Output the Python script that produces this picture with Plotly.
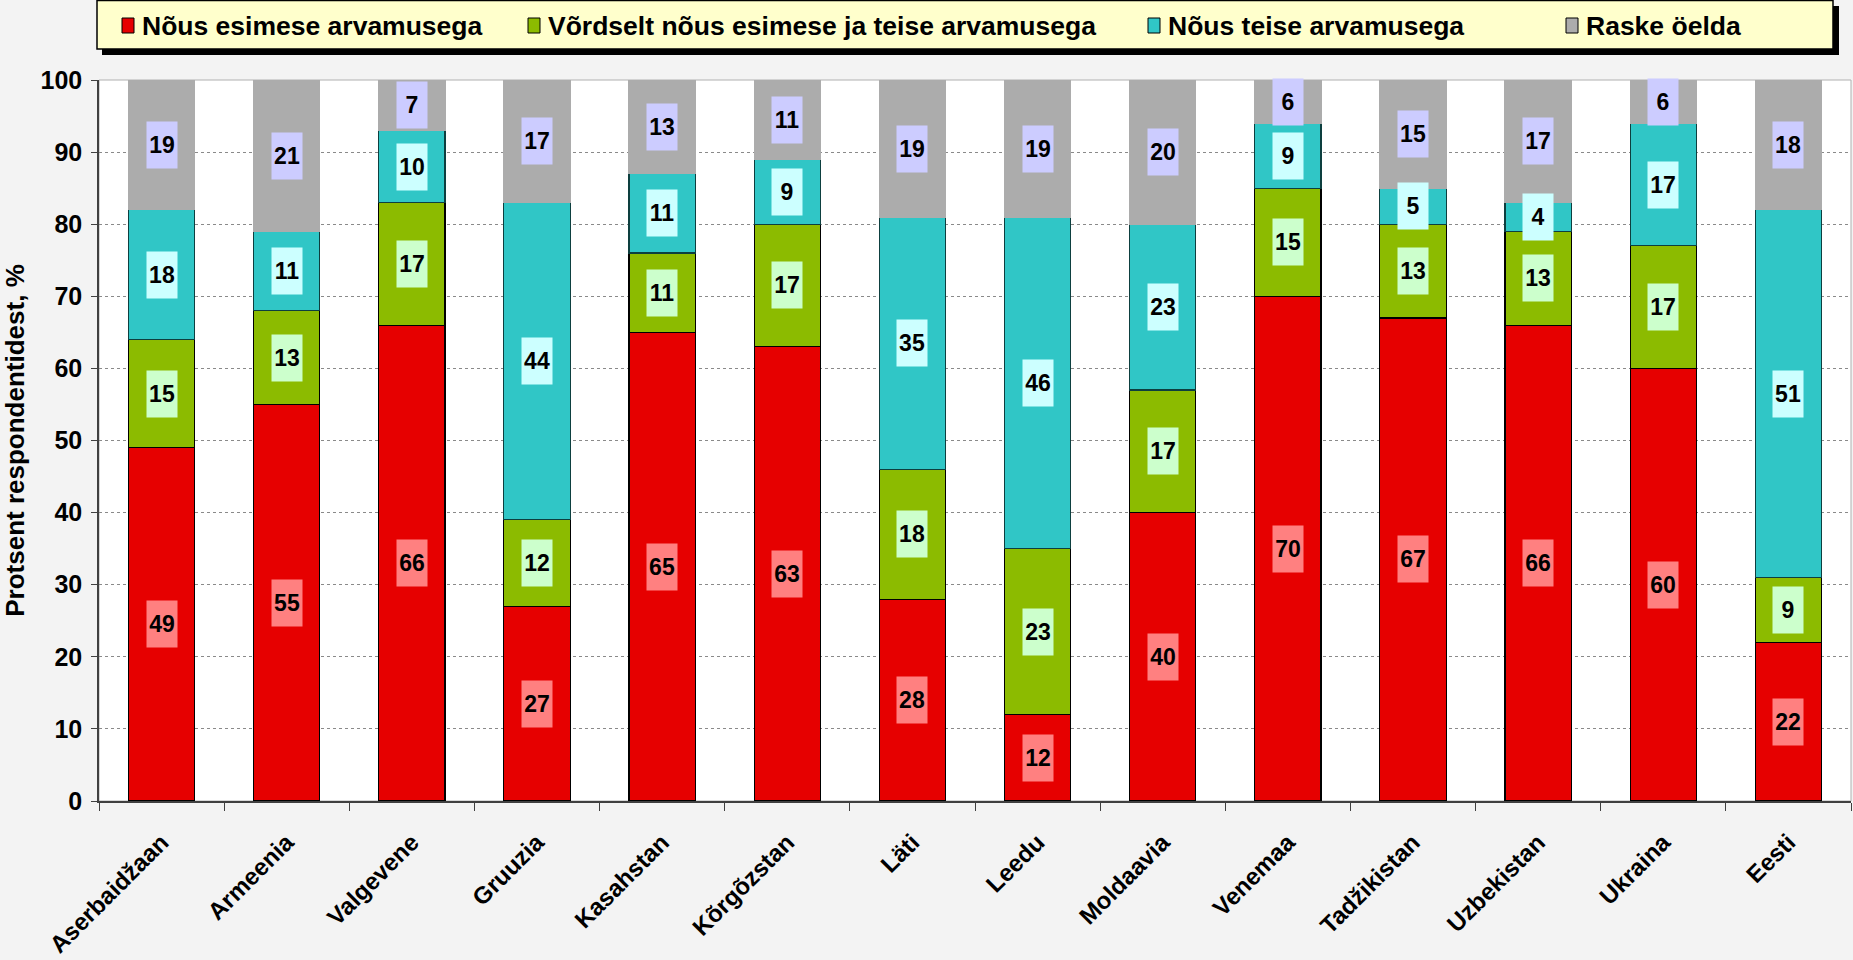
import plotly.graph_objects as go

# ---------------- data ----------------
countries = ["Aserbaidžaan", "Armeenia", "Valgevene", "Gruuzia", "Kasahstan", "Kõrgõzstan",
             "Läti", "Leedu", "Moldaavia", "Venemaa", "Tadžikistan", "Uzbekistan", "Ukraina", "Eesti"]
series_names = ["Nõus esimese arvamusega",
                "Võrdselt nõus esimese ja teise arvamusega",
                "Nõus teise arvamusega",
                "Raske öelda"]
agree_first = [49, 55, 66, 27, 65, 63, 28, 12, 40, 70, 67, 66, 60, 22]
agree_equal = [15, 13, 17, 12, 11, 17, 18, 23, 17, 15, 13, 13, 17, 9]
agree_second = [18, 11, 10, 44, 11, 9, 35, 46, 23, 9, 5, 4, 17, 51]
hard_to_say = [19, 21, 7, 17, 13, 11, 19, 19, 20, 6, 15, 17, 6, 18]
y_tick_values = [0, 10, 20, 30, 40, 50, 60, 70, 80, 90, 100]
y_title = "Protsent respondentidest, %"

# ---------------- style ----------------
W, H = 1853, 960
ML, MR, MT, MB = 99, 2, 80, 159
PW, PH = W - ML - MR, H - MT - MB
FONT = "Liberation Sans, Arial, sans-serif"
bar_colors = ["#e60000", "#8cbb00", "#30c6c6", "#acacac"]
bar_lines = ["#000000", "#000000", "#0d3f3f", "#acacac"]
label_bgs = ["#ff8080", "#ccffcc", "#ccffff", "#ccccff"]
legend_item_px = [122, 528, 1148, 1566]


def px2x(px):
    return (px - ML) / PW


def py2y(py):
    return (MT + PH - py) / PH


all_series = [agree_first, agree_equal, agree_second, hard_to_say]

fig = go.Figure()
for name, vals, col, lc in zip(series_names, all_series, bar_colors, bar_lines):
    fig.add_trace(go.Bar(
        x=countries, y=vals, name=name,
        marker=dict(color=col, line=dict(color=lc, width=1.2)),
        showlegend=False,
    ))

# data labels with coloured boxes
annotations = []
base = [0] * len(countries)
for vals, bg in zip(all_series, label_bgs):
    for i, v in enumerate(vals):
        top = min(base[i] + v, 100)
        mid = (base[i] + top) / 2
        annotations.append(dict(
            x=countries[i], y=mid, xref="x", yref="y", text=f"<b>{v}</b>",
            showarrow=False, bgcolor=bg, width=30, height=46, borderpad=0,
            font=dict(family=FONT, size=23, color="black"),
            xanchor="center", yanchor="middle", valign="middle",
        ))
        base[i] += v

# manual legend
shapes = [
    dict(type="rect", xref="paper", yref="paper",
         x0=px2x(102), x1=px2x(1839), y0=py2y(55), y1=py2y(6),
         fillcolor="black", line=dict(width=0), layer="above"),
    dict(type="rect", xref="paper", yref="paper",
         x0=px2x(97), x1=px2x(1833), y0=py2y(49), y1=py2y(0.5),
         fillcolor="#ffffcc", line=dict(color="black", width=1.5), layer="above"),
    # plot area border (top / right)
    dict(type="rect", xref="paper", yref="paper", x0=0, x1=1, y0=0, y1=1,
         line=dict(color="#b0b0b0", width=1), layer="below"),
]
for name, col, px in zip(series_names, bar_colors, legend_item_px):
    shapes.append(dict(type="rect", xref="paper", yref="paper",
                       x0=px2x(px), x1=px2x(px + 12), y0=py2y(33), y1=py2y(18),
                       fillcolor=col, line=dict(color="black", width=1), layer="above"))
    annotations.append(dict(x=px2x(px + 18), y=py2y(25.5), xref="paper", yref="paper",
                            text=f"<b>{name}</b>", showarrow=False,
                            xanchor="left", yanchor="middle",
                            font=dict(family=FONT, size=26.5, color="black")))

fig.update_layout(
    width=W, height=H,
    margin=dict(l=ML, r=MR, t=MT, b=MB, autoexpand=False),
    barmode="stack", bargap=0.47,
    paper_bgcolor="#f3f3f3", plot_bgcolor="white",
    font=dict(family=FONT, color="black"),
    annotations=annotations, shapes=shapes,
    showlegend=False,
)
fig.update_yaxes(
    range=[0, 100], tickvals=y_tick_values, ticktext=[f"<b>{t}</b>" for t in y_tick_values],
    tickfont=dict(family=FONT, size=25, color="black"),
    showgrid=True, gridcolor="#8a8a8a", griddash="dot", gridwidth=1,
    showline=True, linecolor="#404040", linewidth=1.5,
    ticks="outside", ticklen=6, tickcolor="#404040", ticklabelstandoff=4,
    zeroline=False,
    title=dict(text=f"<b>{y_title}</b>", font=dict(family=FONT, size=26, color="black"), standoff=8),
    automargin=False,
)
fig.update_xaxes(
    tickangle=-45, tickfont=dict(family=FONT, size=24, color="black"),
    ticktext=[f"<b>{c}</b>" for c in countries], tickvals=countries,
    showline=True, linecolor="#404040", linewidth=1.5,
    ticks="outside", ticklen=8, tickcolor="#404040", tickson="boundaries",
    ticklabelstandoff=16, automargin=False,
)

fig.write_html("out.html", config={"displayModeBar": False},
               post_script="document.body.style.margin='0';document.body.style.overflow='hidden';")
